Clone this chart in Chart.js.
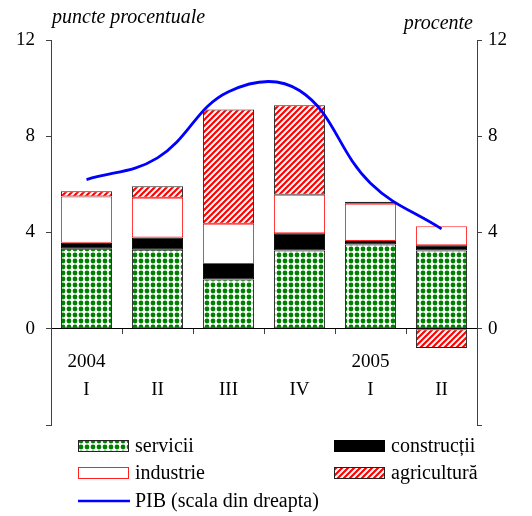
<!DOCTYPE html>
<html>
<head>
<meta charset="utf-8">
<script src="https://cdn.jsdelivr.net/npm/chart.js@4.4.0/dist/chart.umd.min.js"></script>
<style>
  html,body{margin:0;padding:0;background:#fff}
  #wrap{width:532px;height:516px;position:relative}
</style>
</head>
<body>
<div id="wrap"><canvas id="c"></canvas></div>
<script>
// ── Data: contributions to GDP growth (pp) + GDP growth (%) ───────────────────
const QUARTERS    = [['2004','I'],['','II'],['','III'],['','IV'],['2005','I'],['','II']];
const SERVICII    = [3.32, 3.28, 2.05, 3.25, 3.50, 3.25];
const CONSTRUCTII = [0.25, 0.51, 0.64, 0.72, 0.15, 0.22];
const INDUSTRIE   = [1.93, 1.65, 1.67, 1.60, 1.55, 0.79];
const AGRICULTURA = [0.21, 0.48, 4.75, 3.72, 0.08, -0.80];
const PIB         = [6.20, 7.10, 9.85, 9.90, 6.05, 4.15];
const Y_MIN = -4, Y_MAX = 12, Y_STEP = 4;

const FONT = 'Liberation Serif';
const ctx = document.getElementById('c').getContext('2d');

// ── Fill patterns ────────────────────────────────────────────────────────────
function dotPattern() {
  const t = document.createElement('canvas'); t.width = 6; t.height = 6;
  const g = t.getContext('2d');
  g.fillStyle = '#fff'; g.fillRect(0, 0, 6, 6);
  g.fillStyle = '#008000';
  g.beginPath(); g.arc(3, 3, 2.4, 0, Math.PI * 2); g.fill();
  return ctx.createPattern(t, 'repeat');
}
function hatchPattern() {
  const s = 6, t = document.createElement('canvas'); t.width = s; t.height = s;
  const g = t.getContext('2d');
  g.fillStyle = '#fff'; g.fillRect(0, 0, s, s);
  g.strokeStyle = '#ff0000'; g.lineWidth = 2.2;
  g.beginPath();
  g.moveTo(0, s); g.lineTo(s, 0);
  g.moveTo(-1, 1); g.lineTo(1, -1);
  g.moveTo(s - 1, s + 1); g.lineTo(s + 1, s - 1);
  g.stroke();
  return ctx.createPattern(t, 'repeat');
}
const DOTS = dotPattern(), HATCH = hatchPattern();

const tickLbl = v => v === Y_MIN ? '' : v;
const axisCol = '#404040';

// ── Titles above both axes ───────────────────────────────────────────────────
const titlesPlug = { id: 'titles', afterDraw(chart) {
  const c = chart.ctx;
  c.save();
  c.fillStyle = '#000'; c.font = 'italic 20px "' + FONT + '"'; c.textBaseline = 'middle';
  c.textAlign = 'left';  c.fillText('puncte procentuale', 52, 18);
  c.textAlign = 'right'; c.fillText('procente', 473, 24);
  c.restore();
}};

// ── Two-column legend under the plot ─────────────────────────────────────────
const legendPlug = { id: 'legend2', afterDraw(chart) {
  const c = chart.ctx, ds = chart.data.datasets;
  const items = [
    { i: 1, x: 78,  y: 446 }, { i: 2, x: 334, y: 446 },
    { i: 3, x: 78,  y: 473 }, { i: 4, x: 334, y: 473 },
    { i: 0, x: 78,  y: 501 }
  ];
  c.save();
  c.font = '20px "' + FONT + '"'; c.textBaseline = 'middle'; c.textAlign = 'left';
  items.forEach(it => {
    const d = ds[it.i];
    if (d.type === 'line') {
      c.strokeStyle = d.borderColor; c.lineWidth = 2.5;
      c.beginPath(); c.moveTo(it.x, it.y); c.lineTo(it.x + 52, it.y); c.stroke();
    } else {
      c.fillStyle = d.backgroundColor; c.fillRect(it.x, it.y - 6, 51, 12);
      c.strokeStyle = d.borderColor; c.lineWidth = 1;
      c.strokeRect(it.x + 0.5, it.y - 5.5, 50, 11);
    }
    c.fillStyle = '#000';
    c.fillText(d.label, it.x + 57, it.y + 1);
  });
  c.restore();
}};

const barBase = { type: 'bar', yAxisID: 'y', borderWidth: 1, borderSkipped: false,
  barPercentage: 0.72, categoryPercentage: 1 };

new Chart(ctx, {
  data: {
    labels: QUARTERS,
    datasets: [
      { type: 'line', label: 'PIB (scala din dreapta)', data: PIB, yAxisID: 'y1', order: -1,
        borderColor: '#0000ff', borderWidth: 2.8, pointRadius: 0, tension: 0.4, fill: false },
      Object.assign({ label: 'servicii',    data: SERVICII,    backgroundColor: DOTS,    borderColor: '#222' }, barBase),
      Object.assign({ label: 'construcții', data: CONSTRUCTII, backgroundColor: '#000',  borderColor: '#000' }, barBase),
      Object.assign({ label: 'industrie',   data: INDUSTRIE,   backgroundColor: '#fff',  borderColor: '#ff2020' }, barBase),
      Object.assign({ label: 'agricultură', data: AGRICULTURA, backgroundColor: HATCH,   borderColor: '#222' }, barBase)
    ]
  },
  plugins: [titlesPlug, legendPlug],
  options: {
    responsive: true, maintainAspectRatio: false, animation: false,
    layout: { padding: { top: 40, bottom: 91, left: 0, right: 0 } },
    plugins: { legend: { display: false }, tooltip: { enabled: false } },
    scales: {
      x: { stacked: true, position: { y: 0 },
        grid: { offset: true, drawOnChartArea: false, drawTicks: true, tickLength: 5, color: axisCol },
        border: { display: true, color: '#000', width: 1 },
        ticks: { color: '#000', padding: 14, maxRotation: 0, autoSkip: false,
          font: { family: FONT, size: 19, lineHeight: 1.47 } } },
      y: { stacked: true, position: 'left', min: Y_MIN, max: Y_MAX,
        afterFit: s => { s.width = 51; },
        grid: { drawOnChartArea: false, tickLength: 5, color: axisCol },
        border: { display: true, color: axisCol },
        ticks: { stepSize: Y_STEP, padding: 11, color: '#000', callback: tickLbl,
          font: { family: FONT, size: 19 } } },
      y1: { position: 'right', min: Y_MIN, max: Y_MAX,
        afterFit: s => { s.width = 55; },
        grid: { drawOnChartArea: false, tickLength: 5, color: axisCol },
        border: { display: true, color: axisCol },
        ticks: { stepSize: Y_STEP, padding: 6, color: '#000', callback: tickLbl,
          font: { family: FONT, size: 19 } } }
    }
  }
});
</script>
</body>
</html>
